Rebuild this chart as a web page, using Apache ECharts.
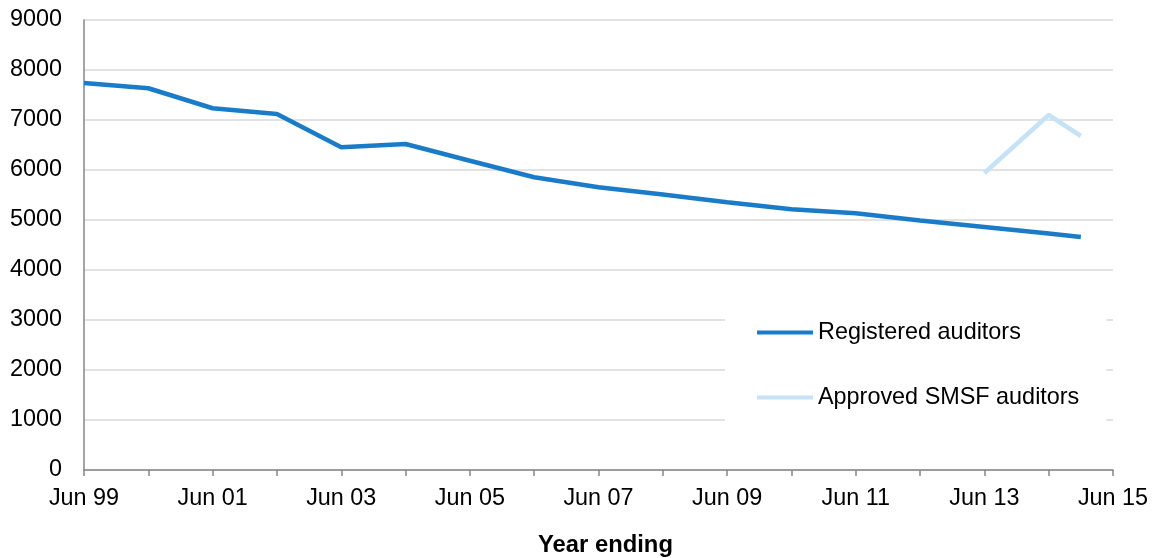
<!DOCTYPE html>
<html>
<head>
<meta charset="utf-8">
<title>Registered and approved SMSF auditors</title>
<script src="https://cdn.jsdelivr.net/npm/echarts@6/dist/echarts.min.js"></script>
<style>
  html, body { margin: 0; padding: 0; background: #fff; }
  #chart { width: 1153px; height: 558px; }
</style>
</head>
<body>
<div id="chart"></div>
<script>
// Reporting periods (year ending)
const periods = ['Jun 99', 'Jun 00', 'Jun 01', 'Jun 02', 'Jun 03', 'Jun 04', 'Jun 05', 'Jun 06',
                 'Jun 07', 'Jun 08', 'Jun 09', 'Jun 10', 'Jun 11', 'Jun 12', 'Jun 13', 'Jun 14', 'Dec 14'];

// Number of registered company auditors
const registeredAuditors = [7740, 7635, 7235, 7120, 6455, 6520, 6185, 5855,
                            5655, 5510, 5355, 5215, 5135, 4990, 4860, 4730, 4660];

// Number of approved SMSF auditors (register began in 2013)
const smsfAuditors = [null, null, null, null, null, null, null, null,
                      null, null, null, null, null, null, 5940, 7100, 6680];

// Labelled ticks along the time axis
const xTickLabels = ['Jun 99', 'Jun 01', 'Jun 03', 'Jun 05', 'Jun 07', 'Jun 09', 'Jun 11', 'Jun 13', 'Jun 15'];

// Convert a period label into years elapsed since June 1999
function periodToYears(label) {
  const [mon, yy] = label.split(' ');
  const year = Number(yy) >= 50 ? 1900 + Number(yy) : 2000 + Number(yy);
  const monthIdx = ['Jan','Feb','Mar','Apr','May','Jun','Jul','Aug','Sep','Oct','Nov','Dec'].indexOf(mon);
  return (year - 1999) + (monthIdx - 5) / 12;
}

function toPoints(values) {
  return periods.map((p, i) => [periodToYears(p), values[i]]);
}

const font = '"Liberation Sans", Arial, sans-serif';
const fs = 23.4;

const chart = echarts.init(document.getElementById('chart'), null, { renderer: 'canvas' });

chart.setOption({
  animation: false,
  backgroundColor: '#ffffff',
  textStyle: { fontFamily: font, color: '#000' },
  grid: { left: 84, right: 40, top: 20, bottom: 88, containLabel: false, outerBoundsMode: 'none' },
  xAxis: {
    type: 'value',
    min: 0,
    max: 16,
    interval: 1,
    name: 'Year ending',
    nameLocation: 'middle',
    nameGap: 63,
    nameTextStyle: {
      fontFamily: font, fontSize: 23.8, fontWeight: 'bold', color: '#000',
      padding: [0, 0, 0, 14]
    },
    axisLine: { show: true, lineStyle: { color: '#868686', width: 1.5 } },
    axisTick: { show: true, inside: false, length: 6, lineStyle: { color: '#868686', width: 1.5 } },
    splitLine: { show: false },
    axisLabel: {
      margin: 17,
      fontFamily: font,
      fontSize: fs,
      color: '#000',
      interval: 0,
      formatter: function (v) {
        return (v % 2 === 0) ? xTickLabels[v / 2] : '';
      }
    }
  },
  yAxis: {
    type: 'value',
    min: 0,
    max: 9000,
    interval: 1000,
    axisLine: { show: true, lineStyle: { color: '#868686', width: 1.5 } },
    axisTick: { show: false },
    splitLine: { show: true, lineStyle: { color: '#d9d9d9', width: 1.5 } },
    axisLabel: {
      margin: 22,
      fontFamily: font,
      fontSize: fs,
      color: '#000',
      formatter: function (v) { return String(v); }
    }
  },
  legend: {
    orient: 'vertical',
    left: 725,
    top: 315,
    padding: [6, 27, 16, 32],
    backgroundColor: '#ffffff',
    itemWidth: 56,
    itemHeight: 4,
    itemGap: 42,
    icon: 'rect',
    textStyle: { fontFamily: font, fontSize: fs, color: '#000', lineHeight: 23 },
    data: ['Registered auditors', 'Approved SMSF auditors']
  },
  series: [
    {
      name: 'Registered auditors',
      type: 'line',
      data: toPoints(registeredAuditors),
      showSymbol: false,
      symbol: 'none',
      color: '#1a7cc8',
      lineStyle: { color: '#1a7cc8', width: 4.5 },
      itemStyle: { color: '#1a7cc8' },
      z: 3
    },
    {
      name: 'Approved SMSF auditors',
      type: 'line',
      data: toPoints(smsfAuditors),
      showSymbol: false,
      symbol: 'none',
      connectNulls: false,
      color: '#c6e2f7',
      lineStyle: { color: '#c6e2f7', width: 4.5 },
      itemStyle: { color: '#c6e2f7' },
      z: 2
    }
  ]
});
</script>
</body>
</html>
